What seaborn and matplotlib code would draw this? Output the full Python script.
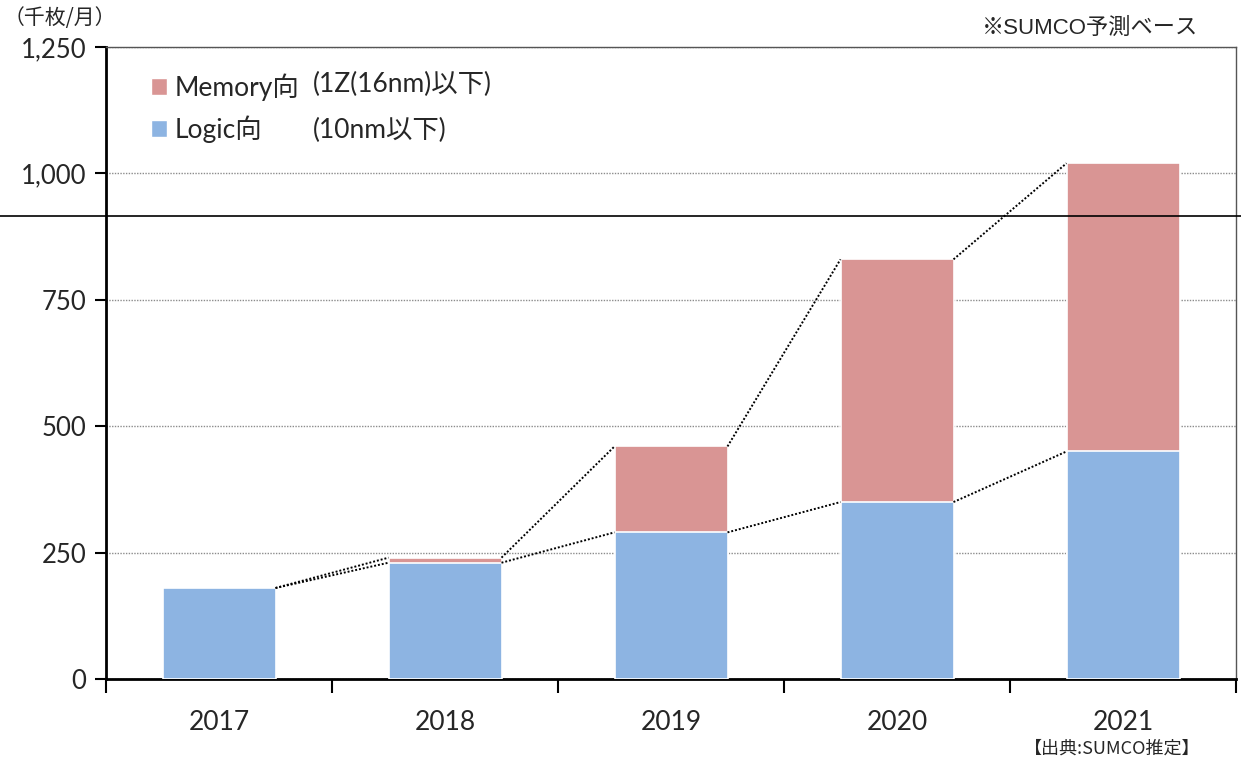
import matplotlib
matplotlib.use("Agg")
import matplotlib.pyplot as plt
import matplotlib.patches as mpatches
from matplotlib.lines import Line2D
import seaborn as sns
import pandas as pd

years = ["2017", "2018", "2019", "2020", "2021"]
logic = [180, 230, 290, 350, 450]
memory = [0, 10, 170, 480, 570]
yticks = [0, 250, 500, 750, 1000, 1250]
ytick_labels = ["0", "250", "500", "750", "1,000", "1,250"]

MEM_COLOR = "#D99594"
LOGIC_COLOR = "#8DB4E2"

sns.set_style("white")
plt.rcParams["font.family"] = ["Lato", "Noto Sans CJK JP", "DejaVu Sans"]

df = pd.DataFrame({"year": years, "logic": logic, "memory": memory})
df["total"] = df["logic"] + df["memory"]

fig = plt.figure(figsize=(12.41, 7.65), dpi=100)
ax = fig.add_axes([106 / 1241, 1 - 679 / 765, 1130 / 1241, 632 / 765])

# stacked bars: full height in memory colour, logic part on top of it
sns.barplot(data=df, x="year", y="total", color=MEM_COLOR, saturation=1,
            width=0.5, edgecolor="white", linewidth=1.2, ax=ax, zorder=2)
n_total = len(ax.patches)
sns.barplot(data=df, x="year", y="logic", color=LOGIC_COLOR, saturation=1,
            width=0.5, edgecolor="white", linewidth=1.2, ax=ax, zorder=3)
total_bars = ax.patches[:n_total]
logic_bars = ax.patches[n_total:]

# dotted connectors between neighbouring bars
for series, bars in ((df["total"].tolist(), total_bars), (logic, logic_bars)):
    for i in range(len(bars) - 1):
        x0 = bars[i].get_x() + bars[i].get_width()
        x1 = bars[i + 1].get_x()
        ax.plot([x0, x1], [series[i], series[i + 1]], color="black",
                linestyle=(0, (1, 1)), linewidth=1.4, zorder=4)

ax.set_ylim(0, 1250)
ax.set_xlim(-0.5, len(years) - 0.5)
ax.set_yticks(yticks)
ax.set_yticklabels(ytick_labels)
ax.yaxis.grid(True, color="#8c8c8c", linestyle=(0, (1, 1)), linewidth=1)
ax.set_axisbelow(True)
ax.set_xlabel("")
ax.set_ylabel("")

# category boundary ticks on the x axis
ax.set_xticks([i - 0.5 for i in range(len(years) + 1)], minor=True)
ax.tick_params(axis="x", which="major", length=0, pad=22, labelsize=19)
ax.tick_params(axis="x", which="minor", length=10, width=1.5, color="black",
               direction="out", bottom=True)
ax.tick_params(axis="y", which="major", length=8, width=1.5, color="black",
               direction="out", left=True, pad=6, labelsize=18.5)

for side in ("left", "bottom"):
    ax.spines[side].set_color("black")
    ax.spines[side].set_linewidth(2)
for side in ("top", "right"):
    ax.spines[side].set_visible(True)
    ax.spines[side].set_color("#555555")
    ax.spines[side].set_linewidth(1)

# legend
handles = [mpatches.Patch(facecolor=MEM_COLOR, edgecolor="white"),
           mpatches.Patch(facecolor=LOGIC_COLOR, edgecolor="white")]
leg = fig.legend(handles, ["Memory向", "Logic向"], loc="upper left",
                 bbox_to_anchor=(138 / 1241, 1 - 60 / 765), frameon=False,
                 fontsize=19, handlelength=0.6, handleheight=0.6,
                 handletextpad=0.3, labelspacing=0.55, borderpad=0)
fig.text(313 / 1241, 1 - 84 / 765, "(1Z(16nm)以下)", fontsize=19,
         va="center", ha="left")
fig.text(313 / 1241, 1 - 130 / 765, "(10nm以下)", fontsize=19,
         va="center", ha="left")

# annotations
fig.text(4 / 1241, 1 - 18 / 765, "（千枚/月）", fontsize=15,
         va="center", ha="left", family=["Noto Sans CJK JP", "DejaVu Sans"])
fig.text(1198 / 1241, 1 - 28 / 765, "※SUMCO予測ベース", fontsize=16,
         va="center", ha="right",
         family=["Liberation Sans", "Noto Sans CJK JP", "DejaVu Sans"])
fig.text(1200 / 1241, 1 - 749 / 765, "【出典:SUMCO推定】", fontsize=13,
         va="center", ha="right",
         family=["Noto Sans CJK JP", "DejaVu Sans"])

# full-width rule across the figure
fig.add_artist(Line2D([0, 1], [1 - 216 / 765, 1 - 216 / 765],
                      transform=fig.transFigure, color="black", linewidth=1.2,
                      zorder=10))

fig.savefig("out.png", dpi=100)
